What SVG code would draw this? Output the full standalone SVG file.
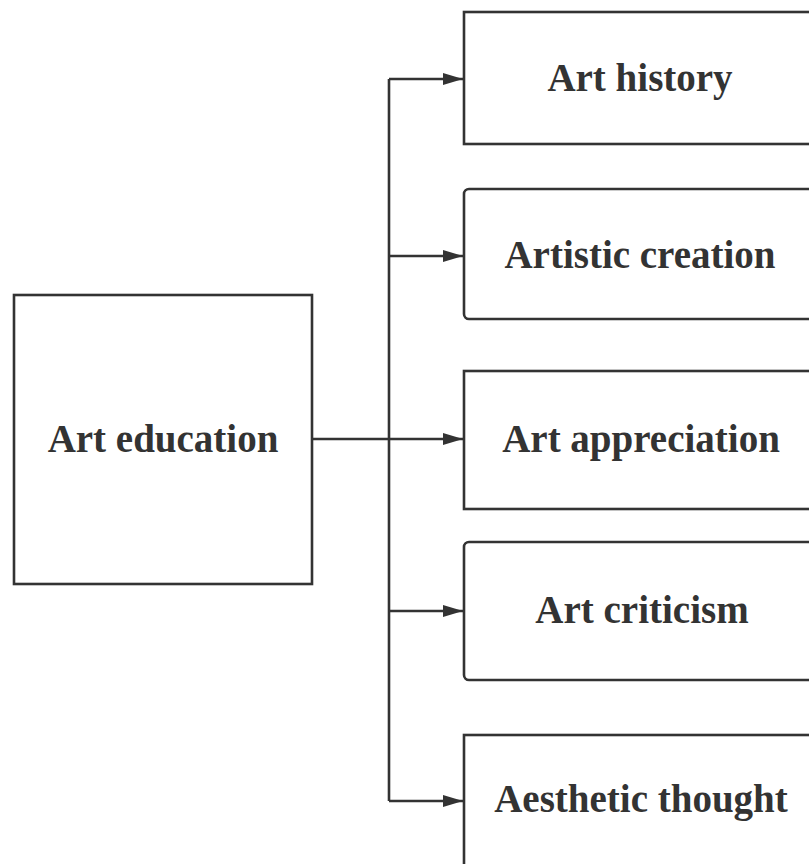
<svg xmlns="http://www.w3.org/2000/svg" width="809" height="864" viewBox="0 0 809 864">
<style>
.box{fill:#fff;stroke:#333;stroke-width:2.6}
.lbl{font-family:"Liberation Serif","Times New Roman",serif;font-weight:bold;font-size:39px;fill:#333;text-anchor:middle}
.con{fill:none;stroke:#333;stroke-width:2.6}
</style>
<defs>
<marker id="ah" viewBox="0 0 20 12" refX="20" refY="6" markerWidth="20" markerHeight="12" markerUnits="userSpaceOnUse" orient="auto">
<path d="M0,0 L20,6 L0,12 Z" fill="#333"/>
</marker>
</defs>
<rect width="809" height="864" fill="#fff"/>
<g id="connectors">
<path class="con" d="M312,439 L389,439"/>
<path class="con" d="M389,79 L389,801"/>
<path class="con" d="M389,79 L463,79" marker-end="url(#ah)"/>
<path class="con" d="M389,256 L463,256" marker-end="url(#ah)"/>
<path class="con" d="M389,439 L463,439" marker-end="url(#ah)"/>
<path class="con" d="M389,611 L463,611" marker-end="url(#ah)"/>
<path class="con" d="M389,801 L463,801" marker-end="url(#ah)"/>
</g>
<g id="art-education">
<rect class="box" x="14" y="295" width="298" height="289"/>
<text class="lbl" x="163" y="452">Art education</text>
</g>
<g id="art-history">
<rect class="box" x="464" y="12" width="360" height="132"/>
<text class="lbl" x="640" y="91">Art history</text>
</g>
<g id="artistic-creation">
<rect class="box" x="464" y="189" width="360" height="130" rx="5"/>
<text class="lbl" x="640" y="268">Artistic creation</text>
</g>
<g id="art-appreciation">
<rect class="box" x="464" y="371" width="360" height="138"/>
<text class="lbl" x="641" y="452">Art appreciation</text>
</g>
<g id="art-criticism">
<rect class="box" x="464" y="542" width="360" height="138" rx="5"/>
<text class="lbl" x="642" y="623">Art criticism</text>
</g>
<g id="aesthetic-thought">
<rect class="box" x="464" y="735" width="360" height="160"/>
<text class="lbl" x="641" y="812">Aesthetic thought</text>
</g>
</svg>
